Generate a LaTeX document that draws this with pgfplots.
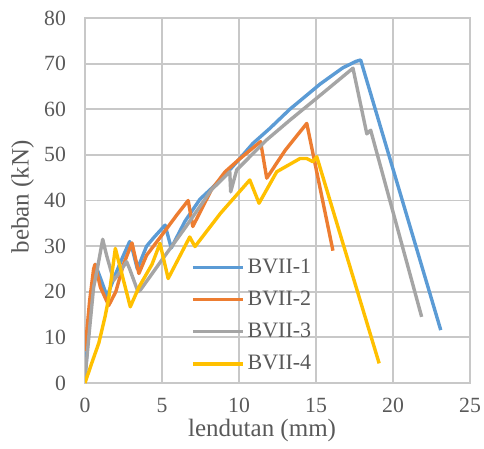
\documentclass[border=0pt]{standalone}
\usepackage{pgfplots}
\pgfplotsset{compat=1.18}
\usepackage{fontspec}
\setmainfont{Liberation Serif}
\definecolor{cblue}{HTML}{5B9BD5}
\definecolor{corange}{HTML}{ED7D31}
\definecolor{cgray}{HTML}{A5A5A5}
\definecolor{cyellow}{HTML}{FFC000}
\definecolor{cgrid}{HTML}{C8C8C8}
\definecolor{ctext}{HTML}{595959}
\begin{document}
\begin{tikzpicture}
\begin{axis}[
  scale only axis,
  width=192.5pt, height=182.5pt,
  xmin=0, xmax=25, ymin=0, ymax=80,
  xtick={0,5,...,25}, ytick={0,10,...,80},
  grid=major,
  grid style={draw=cgrid, line width=0.9pt},
  axis line style={draw=cgrid, line width=0.9pt},
  major tick length=0pt,
  /pgf/number format/assume math mode=true,
  tick label style={font=\fontsize{10.85}{13}\selectfont, text=ctext},
  xticklabel style={yshift=-4pt},
  yticklabel style={xshift=-6pt},
  xlabel={lendutan (mm)},
  ylabel={beban (kN)},
  label style={font=\fontsize{12.5}{15}\selectfont, text=ctext},
  xlabel style={at={(axis description cs:0.46,-0.129)}, anchor=center},
  ylabel style={at={(axis description cs:-0.1623,0.51)}, anchor=center},
  legend style={at={(axis description cs:0.275,0.35)}, anchor=north west,
    draw=none, fill=none, font=\fontsize{11}{13}\selectfont, text=ctext,
    row sep=4.3pt, inner sep=0pt, nodes={inner sep=1.5pt}},
  legend cell align=left,
  legend image code/.code={\draw[#1] (0pt,0pt) -- (25pt,0pt);},
  every axis plot/.append style={line width=1.7pt, line join=round, no markers},
]
\addplot[cblue] coordinates {
(0,1) (0.2,10) (0.5,22) (0.67,26) (1.0,23) (1.43,19) (2.0,24) (2.5,28) (2.9,31) (3.1,29) (3.4,25) (4.0,30) (4.5,32) (5.2,34.6) (5.6,29.6) (6.5,35.5) (7.47,40.3) (8.2,42.6) (9,45.2) (10,49) (10.9,52.5) (12,55.8) (13.3,60) (14.3,62.8) (15.26,65.5) (16,67.3) (16.75,69.1) (17.6,70.5) (17.9,70.8) (23.1,11.6)
};
\addlegendentry{BVII-1}
\addplot[corange] coordinates {
(0,7) (0.3,18) (0.56,25) (0.65,26) (1.0,21) (1.54,17) (2.0,20) (2.5,26) (3.05,30.7) (3.5,24) (4.0,28) (4.9,32) (6.0,37) (6.7,40) (7.0,34.3) (8.2,42.3) (9.1,46.3) (10,49) (11.4,52.9) (11.8,44.9) (13,51) (14.4,56.9) (16.1,29)
};
\addlegendentry{BVII-2}
\addplot[cgray] coordinates {
(0,1) (0.3,12) (0.56,21) (0.8,25) (1.15,31.5) (1.4,28) (1.86,22.5) (2.2,24) (2.7,26.6) (2.9,25) (3.44,20) (3.6,20.4) (5,27) (6.5,34) (8.2,42.3) (9.4,46.3) (9.46,41.9) (9.85,46.7) (11.8,53.3) (13.3,57.6) (15,62.3) (17.4,69) (18.3,54.6) (18.55,55.4) (21.86,14.5)
};
\addlegendentry{BVII-3}
\addplot[cyellow] coordinates {
(0,0) (0.4,4) (0.9,8.8) (1.3,14.5) (1.54,18.6) (1.97,29.5) (2.94,16.7) (3.5,21) (4.35,26) (4.87,30.6) (5.4,22.9) (6.8,32) (7.14,29.9) (8.8,37.2) (10.7,44.5) (11.3,39.4) (12.45,46.3) (13.96,49.2) (14.4,49.2) (14.8,48.5) (15.05,49.6) (19.1,4.3)
};
\addlegendentry{BVII-4}
\coordinate (sw) at (rel axis cs:0,0);
\coordinate (ne) at (rel axis cs:1,1);
\end{axis}
\pgfresetboundingbox
\useasboundingbox ([shift={(-42.5pt,-32.5pt)}]sw) rectangle ([shift={(7pt,9pt)}]ne);
\end{tikzpicture}
\end{document}
